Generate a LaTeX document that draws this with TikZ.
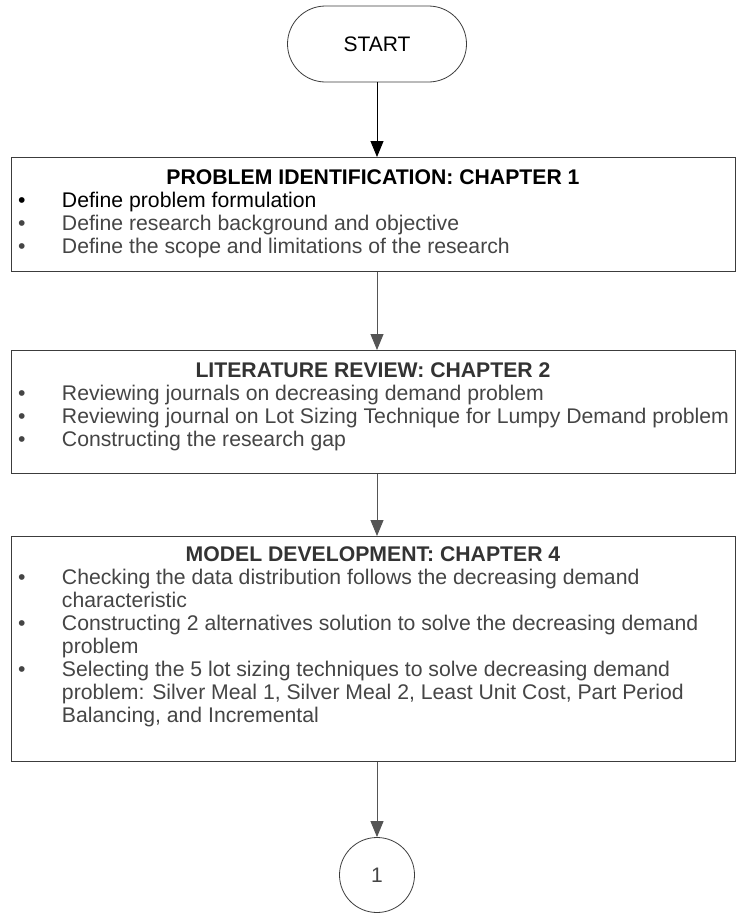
\documentclass[tikz,border=0pt]{standalone}
\usepackage{fontspec}
\setmainfont{Liberation Sans}
\usetikzlibrary{arrows.meta,shapes.misc}
\definecolor{boxc}{HTML}{3C3C3C}
\definecolor{linec}{HTML}{555555}
\definecolor{greytxt}{HTML}{454545}
\definecolor{titletxt}{HTML}{333333}
\newcommand{\bl}[1]{\makebox[51pt][l]{\hspace{7pt}\textbullet}#1}
\newcommand{\cont}[1]{\hspace*{51pt}#1}
\newcommand{\ttl}[1]{\rule{0pt}{20pt}\makebox[724pt][c]{\textbf{#1}}}
\newcommand{\boxfont}{\fontsize{21.2pt}{23pt}\selectfont}
\begin{document}
\begin{tikzpicture}[x=1pt,y=-1pt,
  boxnode/.style={draw=boxc, line width=0.9pt, rectangle, inner sep=0pt,
    minimum width=724pt, anchor=north west},
  txt/.style={anchor=north west, inner sep=0pt, outer sep=0pt},
  flow/.style={draw=linec, line width=0.9pt, -{Triangle[width=13pt,length=16pt]}},
  termnode/.style={draw=boxc, line width=0.8pt, rounded rectangle, minimum width=179pt,
    minimum height=76pt, inner sep=0pt, font=\fontsize{21pt}{24pt}\selectfont},
  connnode/.style={draw=boxc, line width=0.8pt, circle, minimum size=75pt, inner sep=0pt,
    font=\fontsize{21pt}{24pt}\selectfont, text=greytxt}]
\useasboundingbox (0,0) rectangle (736,913);
\fill[white] (0,0) rectangle (736,913);

\node[termnode] (start) at (377,44) {START};

\node[boxnode, minimum height=114pt] (box1) at (11,157) {};
\node[txt] (box1t) at (11,164) {\parbox[t]{724pt}{\boxfont
\ttl{PROBLEM IDENTIFICATION: CHAPTER 1}\\
\bl{Define problem formulation}\\
{\color{greytxt}\bl{Define research background and objective}}\\
{\color{greytxt}\bl{Define the scope and limitations of the research}}}};

\node[boxnode, minimum height=123pt] (box2) at (11,350) {};
\node[txt] (box2t) at (11,357) {\parbox[t]{724pt}{\boxfont
{\color{titletxt}\ttl{LITERATURE REVIEW: CHAPTER 2}}\\
{\color{greytxt}\bl{Reviewing journals on decreasing demand problem}}\\
{\color{greytxt}\bl{Reviewing journal on Lot Sizing Technique for Lumpy Demand problem}}\\
{\color{greytxt}\bl{Constructing the research gap}}}};

\node[boxnode, minimum height=225pt] (box3) at (11,536) {};
\node[txt] (box3t) at (11,541) {\parbox[t]{724pt}{\boxfont\color{greytxt}
{\color{titletxt}\ttl{MODEL DEVELOPMENT: CHAPTER 4}}\\
\bl{Checking the data distribution follows the decreasing demand}\\
\cont{characteristic}\\
\bl{Constructing 2 alternatives solution to solve the decreasing demand}\\
\cont{problem}\\
\bl{Selecting the 5 lot sizing techniques to solve decreasing demand}\\
\cont{problem: Silver Meal 1, Silver Meal 2, Least Unit Cost, Part Period}\\
\cont{Balancing, and Incremental}}};

\node[connnode] (c1) at (377,875) {1};

\draw[flow, draw=black] (start.south) -- (start.south |- box1.north);
\draw[flow] (box1.south -| start) -- (box2.north -| start);
\draw[flow] (box2.south -| start) -- (box3.north -| start);
\draw[flow] (box3.south -| start) -- (c1.north);
\end{tikzpicture}
\end{document}
